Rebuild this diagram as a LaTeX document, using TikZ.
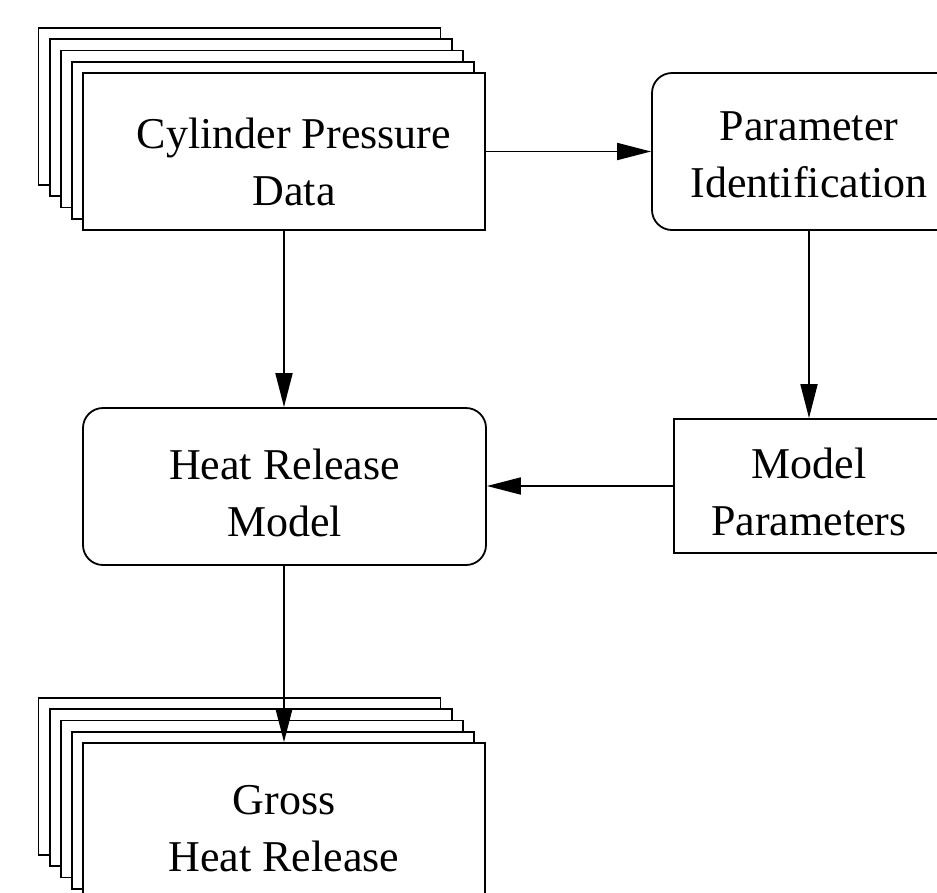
\documentclass[tikz,border=0pt]{standalone}
\usepackage{fontspec}
\setmainfont{Liberation Serif}
\usetikzlibrary{arrows.meta}

\begin{document}
\begin{tikzpicture}[x=1pt,y=-1pt,
  outline/.style={draw=black,line width=1.8pt,fill=white,inner sep=0pt},
  sheet/.style={outline,minimum width=402pt,minimum height=157pt},
  roundbox/.style={outline,rounded corners=20pt},
  caption/.style={font=\fontsize{44}{57}\selectfont,align=center,inner sep=0pt},
  flow/.style={line width=1.8pt,-{Triangle[length=34pt,width=17pt]}}
]
\useasboundingbox (0,0) rectangle (937,892);
\clip (0,0) rectangle (937,892);

% stack of data sheets: cylinder pressure
\foreach \k in {0,1,2,3}{
  \node[sheet] (cylback\k) at ({239.5+11.25*\k},{106.5+11.25*\k}) {};
}
\node[sheet] (cyl) at (284,151.5) {};
\node[caption] (cyltext) at (294,161.5) {Cylinder Pressure\\Data};

% parameter identification
\node[roundbox,minimum width=314pt,minimum height=157pt] (param) at (809,151.5) {};
\node[caption] (paramtext) at (809,154.5) {Parameter\\Identification};

% heat release model
\node[roundbox,minimum width=403pt,minimum height=157pt] (heat) at (284.5,486.5) {};
\node[caption] (heattext) at (284.5,492.5) {Heat Release\\Model};

% model parameters
\node[outline,minimum width=270pt,minimum height=134pt] (mp) at (809,486) {};
\node[caption] (mptext) at (809,492) {Model\\Parameters};

% stack of result sheets: gross heat release
\foreach \k in {0,1,2,3}{
  \node[sheet] (grossback\k) at ({239.5+11.25*\k},{776.5+11.25*\k}) {};
}
\node[sheet] (gross) at (284,821.5) {};
\node[caption] (grosstext) at (284,829) {Gross\\Heat Release};

% connectors
\draw[flow] (cyl.east) -- (param.west);
\draw[flow] (cyl.south) -- (heat.north -| cyl.south);
\draw[flow] (param.south) -- (mp.north);
\draw[flow] (mp.west) -- (heat.east |- mp.west);
\draw[flow] (heat.south -| cyl.south) -- (gross.north);
\end{tikzpicture}
\end{document}
